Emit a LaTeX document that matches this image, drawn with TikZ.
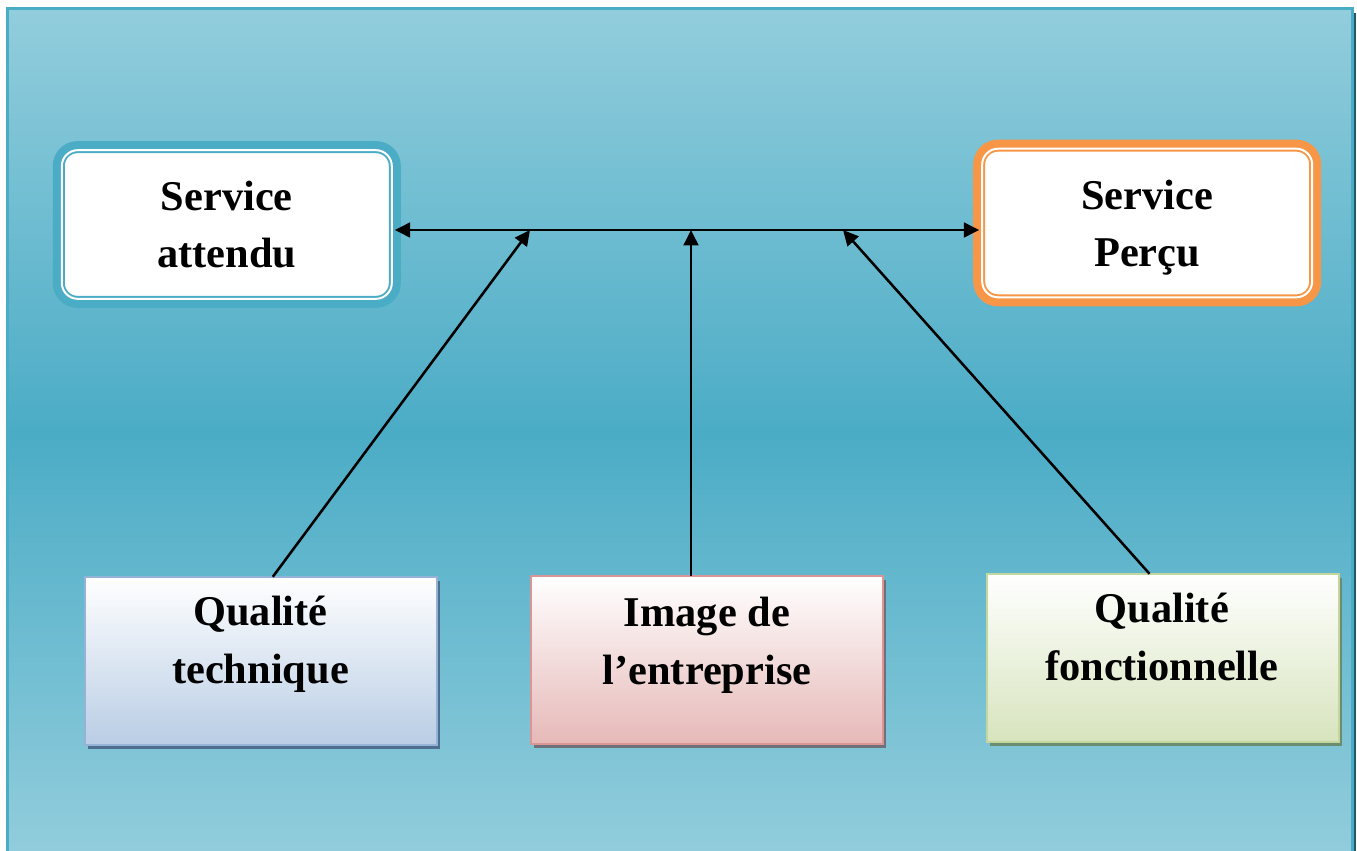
\documentclass[tikz,border=0pt]{standalone}
\usepackage{fontspec}
\setmainfont{Liberation Serif}
\usetikzlibrary{arrows.meta,shadows}
\definecolor{aqualight}{HTML}{92CDDC}
\definecolor{aqua}{HTML}{4BACC6}
\definecolor{aquadark}{HTML}{215968}
\definecolor{accentorange}{HTML}{F79646}
\definecolor{techline}{HTML}{95B3D7}
\definecolor{techfill}{HTML}{B9CDE5}
\definecolor{techshadow}{HTML}{4F6D8F}
\definecolor{imgline}{HTML}{D99694}
\definecolor{imgfill}{HTML}{E6B9B8}
\definecolor{imgshadow}{HTML}{6E7179}
\definecolor{fonline}{HTML}{C3D69B}
\definecolor{fonfill}{HTML}{D7E4BD}
\definecolor{fonshadow}{HTML}{6A8C70}
\begin{document}
\begin{tikzpicture}[x=0.75pt,y=-0.75pt,
  service/.style={rectangle, rounded corners=14pt, line width=9pt, fill=white,
    outer sep=0pt, inner sep=0pt, minimum width=252pt, minimum height=116pt,
    text depth=0pt, align=center, font=\bfseries\fontsize{31.8}{42.75}\selectfont},
  stripe/.style={draw=white, line width=1.5pt, rounded corners=12pt},
  factor/.style={rectangle, line width=1.5pt, outer sep=0pt, inner sep=0pt,
    minimum width=264pt, minimum height=126pt},
  factortext/.style={align=center, inner sep=0pt,
    font=\bfseries\fontsize{31.8}{43.5}\selectfont},
  link/.style={line width=1.9pt, -{Triangle[length=11.5pt,width=11pt]}},
  bothlink/.style={line width=2.1pt, {Triangle[length=11.5pt,width=11pt]}-{Triangle[length=11.5pt,width=11pt]}},
]
\useasboundingbox (0,0) rectangle (1357,850);
\fill[white] (0,0) rectangle (1357,850);

% background panel with its shadow
\fill[aquadark] (11.5,12.5) rectangle (1356.3,870);
\draw[line width=2.25pt, draw=aqua, top color=aqualight, bottom color=aqualight,
  middle color=aqua] (7.5,8.5) rectangle (1352.3,856);

% the two service boxes
\node[service, draw=aqua] (sa) at (226.8,224.5) {Service\\attendu};
\draw[stripe] ([shift={(3,3)}]sa.north west) rectangle ([shift={(-3,-3)}]sa.south east);
\node[service, draw=accentorange] (sp) at (1147.2,223) {Service\\Perçu};
\draw[stripe] ([shift={(3,3)}]sp.north west) rectangle ([shift={(-3,-3)}]sp.south east);

% the three quality factors
\node[factor, draw=techline, top color=white, bottom color=techfill,
  drop shadow={shadow xshift=2.5pt, shadow yshift=-3.5pt, fill=techshadow, opacity=1}]
  (tech) at (260.8,660.8) {};
\node[factortext] (techtxt) at (260.5,644) {Qualité\\technique};

\node[factor, draw=imgline, top color=white, bottom color=imgfill,
  drop shadow={shadow xshift=2.5pt, shadow yshift=-3.5pt, fill=imgshadow, opacity=1}]
  (img) at (707,659.5) {};
\node[factortext] (imgtxt) at (707,645) {Image de\\l’entreprise};

\node[factor, draw=fonline, top color=white, bottom color=fonfill,
  drop shadow={shadow xshift=2.5pt, shadow yshift=-3.5pt, fill=fonshadow, opacity=1}]
  (fon) at (1162.5,657.8) {};
\node[factortext] (fontxt) at (1161.7,636.5) {Qualité\\fonctionnelle};

% junctions on the horizontal link
\coordinate (j1) at (530,230);
\coordinate (j2) at (691,230);
\coordinate (j3) at (843,230);

\draw[bothlink] (j2 -| sa.east) -- (j2 -| sp.west);
\draw[link] ([xshift=9pt]tech.north) -- (j1);
\draw[link] (img.north -| j2) -- (j2);
\draw[link] ([xshift=-9.75pt]fon.north) -- (j3);
\end{tikzpicture}
\end{document}
